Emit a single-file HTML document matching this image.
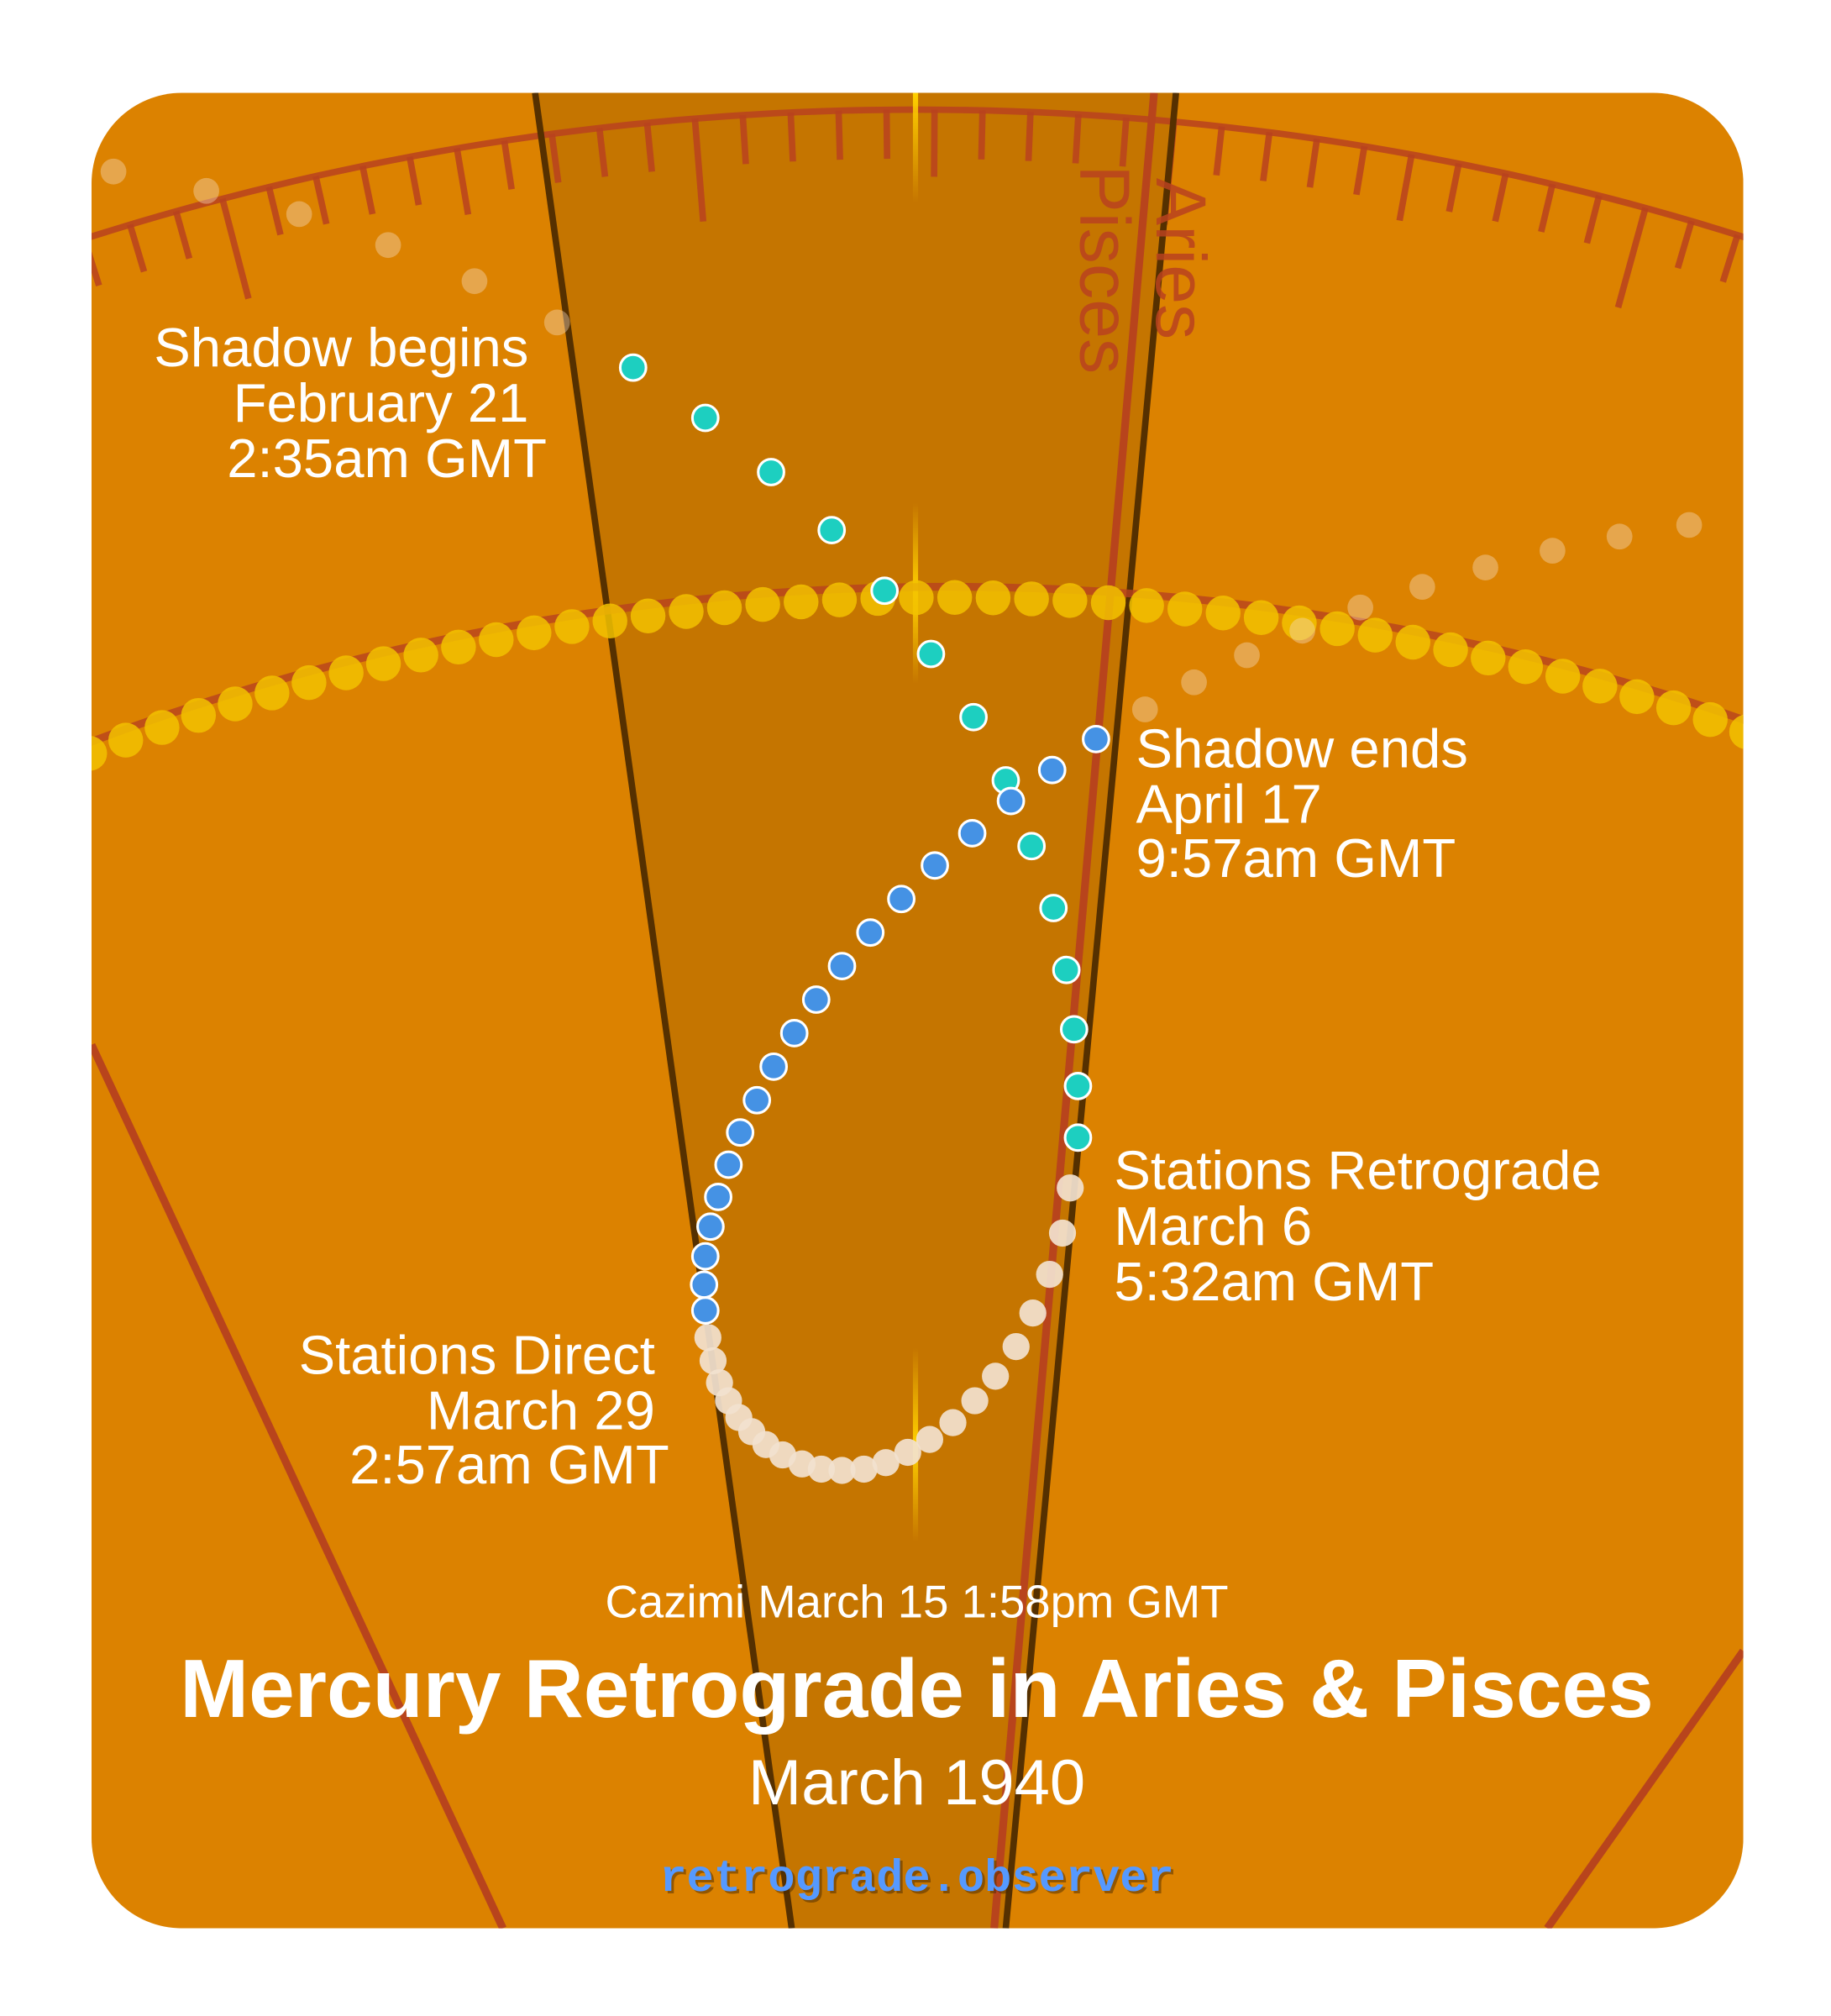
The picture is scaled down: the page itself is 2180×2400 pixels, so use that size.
<!DOCTYPE html>
<html><head><meta charset="utf-8"><style>
html,body{margin:0;padding:0;background:#fff;}
svg{display:block;}
text{font-family:"Liberation Sans",sans-serif;}
</style></head><body>
<svg id="s" width="2180" height="2400" viewBox="0 0 1420 1563" preserveAspectRatio="none" xmlns="http://www.w3.org/2000/svg">
<defs>
<clipPath id="card"><rect x="71" y="72" width="1281" height="1423" rx="70"/></clipPath>
<linearGradient id="sg1" x1="0" y1="0" x2="0" y2="1"><stop offset="0" stop-color="#ffd000" stop-opacity="1"/><stop offset="1" stop-color="#ffd000" stop-opacity="0"/></linearGradient>
<linearGradient id="sg2" x1="0" y1="0" x2="0" y2="1"><stop offset="0" stop-color="#ffd000" stop-opacity="0"/><stop offset="0.5" stop-color="#ffd000" stop-opacity="1"/><stop offset="1" stop-color="#ffd000" stop-opacity="0"/></linearGradient>
</defs>
<g clip-path="url(#card)">
<rect x="71" y="72" width="1281" height="1423" fill="#dc8200"/>
<polygon points="413,72 911,72 779,1495 613,1495" fill="#c57500"/>
<g id="ticks" stroke="#b8421e" stroke-opacity="0.85" stroke-width="5" fill="none"></g>
<line x1="71" y1="810" x2="390" y2="1495" stroke="#b8441c" stroke-width="6"/>
<line x1="1352" y1="1280" x2="1200" y2="1495" stroke="#b8441c" stroke-width="6"/>
<line x1="895" y1="72" x2="771" y2="1495" stroke="#b8441c" stroke-width="6"/>
<line x1="415" y1="72" x2="614" y2="1495" stroke="#553000" stroke-width="5"/>
<line x1="912" y1="72" x2="780" y2="1495" stroke="#553000" stroke-width="5"/>
<rect x="708" y="72" width="4" height="85" fill="url(#sg1)"/>
<rect x="708" y="390" width="4" height="140" fill="url(#sg2)"/>
<rect x="708" y="1045" width="4" height="150" fill="url(#sg2)"/>
<text x="838" y="128" transform="rotate(90 838 128)" font-size="55" fill="#b8421e" fill-opacity="0.85">Pisces</text>
<text x="897" y="138" transform="rotate(90 897 138)" font-size="55" fill="#b8421e" fill-opacity="0.85">Aries</text>
<path id="ecl" fill="none" stroke="#b8421e" stroke-opacity="0.8" stroke-width="6"/>
<g id="sun" fill="#f2c200" fill-opacity="0.85"></g>
<g id="faint" fill="#f5dcc0" fill-opacity="0.4"></g>
<g id="teal" fill="#1dcfc0" stroke="#fff" stroke-width="2"></g>
<g id="cream" fill="#f2e2cf" fill-opacity="0.92"></g>
<g id="blue" fill="#4592e4" stroke="#fff" stroke-width="2"></g>
</g>
<g fill="#fff" font-size="42.5">
<text x="410" y="284" text-anchor="end">Shadow begins</text>
<text x="410" y="327" text-anchor="end">February 21</text>
<text x="424" y="370" text-anchor="end">2:35am GMT</text>
<text x="881" y="595">Shadow ends</text>
<text x="881" y="638">April 17</text>
<text x="881" y="680">9:57am GMT</text>
<text x="864" y="922">Stations Retrograde</text>
<text x="864" y="965">March 6</text>
<text x="864" y="1008">5:32am GMT</text>
<text x="508" y="1065" text-anchor="end">Stations Direct</text>
<text x="508" y="1108" text-anchor="end">March 29</text>
<text x="519" y="1150" text-anchor="end">2:57am GMT</text>
<text x="711" y="1254" text-anchor="middle" font-size="35.5">Cazimi March 15 1:58pm GMT</text>
<text x="711" y="1331" text-anchor="middle" font-size="64" font-weight="bold">Mercury Retrograde in Aries &amp; Pisces</text>
<text x="711" y="1399" text-anchor="middle" font-size="49.5">March 1940</text>
</g>
<text x="713" y="1468" text-anchor="middle" font-size="35" font-weight="bold" fill="#4a2a00" fill-opacity="0.5" style="font-family:'Liberation Mono',monospace">retrograde.observer</text>
<text x="711" y="1466" text-anchor="middle" font-size="35" font-weight="bold" fill="#5599ff" style="font-family:'Liberation Mono',monospace">retrograde.observer</text>
</svg>
<script>
var NS="http://www.w3.org/2000/svg";
function el(p,t,a){var e=document.createElementNS(NS,t);for(var k in a)e.setAttribute(k,a[k]);document.getElementById(p).appendChild(e);}
var cx=711,cy=2217,R=2132,base=5.37;
var d="";
for(var a=-40;a<=40;a+=0.5){var r=a*Math.PI/180;var x=cx+R*Math.sin(r),y=cy-R*Math.cos(r);d+=(d?"L":"M")+x.toFixed(1)+","+y.toFixed(1);}
el("ticks","path",{d:d});
for(var k=-30;k<=30;k++){var ang=(base+k)*Math.PI/180;var L=(k%10==0)?80:(k%5==0?52:38);
var x1=cx+R*Math.sin(ang),y1=cy-R*Math.cos(ang),x2=cx+(R-L)*Math.sin(ang),y2=cy-(R-L)*Math.cos(ang);
el("ticks","line",{x1:x1,y1:y1,x2:x2,y2:y2});}
var ex=735.2,ey=2352.2,ER=1897.3;d="";
for(var a=-35;a<=35;a+=0.5){var r=a*Math.PI/180;d+=(d?"L":"M")+(ex+ER*Math.sin(r)).toFixed(1)+","+(ey-ER*Math.cos(r)).toFixed(1);}
document.getElementById("ecl").setAttribute("d",d);
var step=29.8/1893;
for(var i=-24;i<=24;i++){var r=i*step-0.013;var x=ex+1893*Math.sin(r),y=ey-1893*Math.cos(r)+4;el("sun","circle",{cx:x,cy:y,r:13.5});}
[[88,133],[160,148],[232,166],[301,190],[368,218],[432,250],[888,550],[926,529],[967,508],[1010,489],[1055,471],[1103,455],[1152,440],[1204,427],[1256,416],[1310,407]].forEach(function(p){el("faint","circle",{cx:p[0],cy:p[1],r:10});});
[[491,285],[547,324],[598,366],[645,411],[686,458],[722,507],[755,556],[780,605],[800,656],[817,704],[827,752],[833,798],[836,842],[836,882]].forEach(function(p){el("teal","circle",{cx:p[0],cy:p[1],r:10});});
[[830,921],[824,956],[814,988],[801,1018],[788,1044],[772,1067],[756,1086],[739,1103],[721,1116],[704,1126],[687,1134],[670,1139],[653,1140],[637,1139],[622,1135],[607,1128],[594,1120],[583,1110],[573,1099],[565,1086],[558,1072],[553,1055],[549,1037]].forEach(function(p){el("cream","circle",{cx:p[0],cy:p[1],r:10.5});});
[[547,1016],[546,996],[547,974],[551,951],[557,928],[565,903],[574,878],[587,853],[600,827],[616,801],[633,775],[653,749],[675,723],[699,697],[725,671],[754,646],[784,621],[816,597],[850,573]].forEach(function(p){el("blue","circle",{cx:p[0],cy:p[1],r:10});});
</script>
</body></html>
